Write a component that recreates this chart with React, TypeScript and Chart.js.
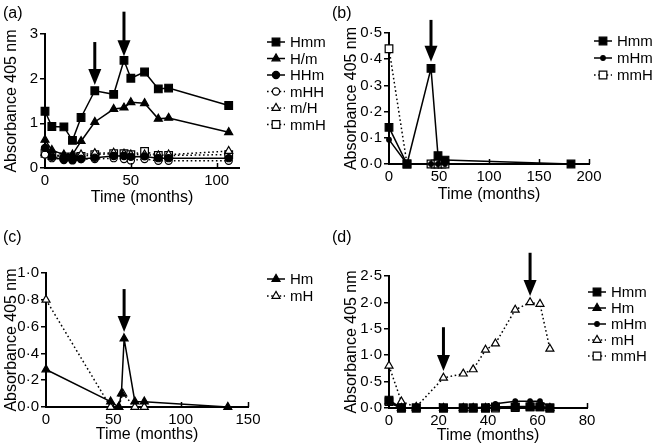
import React, { useEffect, useRef } from 'react';
import { Chart, registerables } from 'chart.js';

Chart.register(...registerables);

const FONT = '"Liberation Sans", Arial, Helvetica, sans-serif';

// ---------- Panel (a) ----------
const monthsA = [0, 4, 11, 16, 21, 29, 40, 46, 50, 58, 66, 72, 107];
const hmmA = [1.27, 0.93, 0.92, 0.62, 1.13, 1.73, 1.65, 2.41, 2.01, 2.15, 1.77, 1.79, 1.40];
const hSlashMA = [0.63, 0.40, 0.30, 0.30, 0.60, 1.03, 1.32, 1.35, 1.47, 1.45, 1.10, 1.12, 0.80];
const hhmA = [0.45, 0.25, 0.18, 0.17, 0.20, 0.23, 0.27, 0.27, 0.25, 0.26, 0.22, 0.22, 0.22];
const mhhA = [0.30, 0.22, 0.20, 0.19, 0.20, 0.20, 0.22, 0.20, 0.17, 0.20, 0.16, 0.16, 0.16];
const mSlashHA = [0.34, 0.30, 0.27, 0.27, 0.30, 0.33, 0.34, 0.32, 0.30, 0.30, 0.28, 0.30, 0.38];
const mmhA = [0.33, 0.28, 0.25, 0.25, 0.26, 0.30, 0.32, 0.32, 0.30, 0.37, 0.28, 0.28, 0.30];
const arrowMonthsA = [29, 46];
const arrowTopsA = [2.82, 3.5];
const arrowTipsA = [1.86, 2.5];

// ---------- Panel (b) ----------
const hmmMonthsB = [0, 18, 42, 49, 56, 182];
const hmmB = [0.14, 0.0, 0.365, 0.032, 0.015, 0.0];
const mhmMonthsB = [0, 18, 42, 49, 56];
const mhmB = [0.093, 0.0, 0.0, 0.0, 0.0];
const mmhMonthsB = [0, 18, 42, 46, 49, 53, 56];
const mmhB = [0.44, 0.0, 0.0, 0.0, 0.0, 0.0, 0.0];
const arrowMonthsB = [42];
const arrowTopsB = [0.55];
const arrowTipsB = [0.39];

// ---------- Panel (c) ----------
const hmMonthsC = [0, 48, 54, 56, 58, 66, 73, 135];
const hmC = [0.28, 0.04, 0.0, 0.1, 0.51, 0.04, 0.04, 0.0];
const mhMonthsC = [0, 48, 54, 57, 66, 73];
const mhC = [0.8, 0.0, 0.0, 0.1, 0.0, 0.0];
const arrowMonthsC = [58];
const arrowTopsC = [0.88];
const arrowTipsC = [0.56];

// ---------- Panel (d) ----------
const monthsD = [0, 5, 11, 22, 30, 34, 39, 43, 51, 57, 61, 65];
const hmmD = [0.15, 0.0, 0.0, 0.0, 0.0, 0.0, 0.0, 0.02, 0.02, 0.02, 0.02, 0.0];
const hmD = [0.12, 0.0, 0.0, 0.0, 0.0, 0.0, 0.0, 0.02, 0.03, 0.03, 0.03, 0.0];
const mhmD = [0.1, 0.0, 0.0, 0.0, 0.0, 0.0, 0.02, 0.08, 0.13, 0.13, 0.13, 0.02];
const mhD = [0.8, 0.12, 0.02, 0.57, 0.65, 0.73, 1.1, 1.22, 1.86, 2.0, 1.97, 1.12];
const mmhD = [0.12, 0.0, 0.0, 0.0, 0.0, 0.0, 0.0, 0.0, 0.01, 0.02, 0.02, 0.0];
const arrowMonthsD = [22, 57];
const arrowTopsD = [1.53, 2.94];
const arrowTipsD = [0.7, 2.12];

type Marker = 'square' | 'triangle' | 'circle' | 'dot';
type Style = { marker: Marker; filled: boolean; dotted: boolean };

const STYLES: Record<string, Style> = {
  Hmm: { marker: 'square', filled: true, dotted: false },
  'H/m': { marker: 'triangle', filled: true, dotted: false },
  Hm: { marker: 'triangle', filled: true, dotted: false },
  HHm: { marker: 'circle', filled: true, dotted: false },
  mHm: { marker: 'dot', filled: true, dotted: false },
  mHH: { marker: 'circle', filled: false, dotted: true },
  'm/H': { marker: 'triangle', filled: false, dotted: true },
  mH: { marker: 'triangle', filled: false, dotted: true },
  mmH: { marker: 'square', filled: false, dotted: true },
};

const RADIUS: Record<Marker, number> = { square: 5.4, triangle: 4.6, circle: 3.6, dot: 2.3 };
const DASH = [1.6, 2.6];

function drawMarker(ctx: CanvasRenderingContext2D, m: Marker, x: number, y: number, filled: boolean) {
  const r = RADIUS[m];
  ctx.beginPath();
  if (m === 'square') {
    const s = r * Math.SQRT1_2;
    ctx.rect(x - s, y - s, 2 * s, 2 * s);
  } else if (m === 'triangle') {
    ctx.moveTo(x, y - r);
    ctx.lineTo(x + r * 0.866, y + r * 0.5);
    ctx.lineTo(x - r * 0.866, y + r * 0.5);
    ctx.closePath();
  } else {
    ctx.arc(x, y, r, 0, Math.PI * 2);
  }
  ctx.fillStyle = filled ? '#000' : '#fff';
  ctx.fill();
  ctx.setLineDash([]);
  ctx.lineWidth = 1.2;
  ctx.strokeStyle = '#000';
  ctx.stroke();
}

type Series = { name: string; x: number[]; y: number[] };

type PanelProps = {
  left: number;
  top: number;
  width: number;
  height: number;
  label: string;
  labelX: number;
  series: Series[];
  xMax: number;
  xStep: number;
  yMax: number;
  yStep: number;
  yDecimals: number;
  area: { left: number; right: number; top: number; bottom: number };
  yTitleCenter: number;
  xTitleCenter: number;
  legendX: number;
  legendY: number;
  legendGap: number;
  arrowX: number[];
  arrowTop: number[];
  arrowTip: number[];
};

function Panel(p: PanelProps) {
  const ref = useRef<HTMLCanvasElement>(null);
  useEffect(() => {
    const canvas = ref.current;
    if (!canvas) return;
    const datasets = p.series.map((s) => {
      const st = STYLES[s.name];
      return {
        label: s.name,
        data: s.x.map((xv, i) => ({ x: xv, y: s.y[i] })),
        borderColor: '#000',
        borderWidth: 1.5,
        borderDash: st.dotted ? DASH : [],
        pointStyle: st.marker === 'square' ? 'rect' : st.marker === 'triangle' ? 'triangle' : 'circle',
        pointRadius: RADIUS[st.marker],
        pointBackgroundColor: st.filled ? '#000' : '#fff',
        pointBorderColor: '#000',
        pointBorderWidth: 1.2,
        pointHoverRadius: RADIUS[st.marker],
        tension: 0,
        fill: false,
        clip: false as any,
      };
    });

    const decor = {
      id: 'decor',
      afterDraw(chart: any) {
        const ctx: CanvasRenderingContext2D = chart.ctx;
        const xs = chart.scales.x;
        const ys = chart.scales.y;
        const a = chart.chartArea;
        ctx.save();
        // inward x ticks
        ctx.strokeStyle = '#000';
        ctx.lineWidth = 1.5;
        xs.ticks.forEach((t: any) => {
          if (t.value === 0) return;
          const px = Math.round(xs.getPixelForValue(t.value)) + 0.5;
          ctx.beginPath();
          ctx.moveTo(px, a.bottom);
          ctx.lineTo(px, a.bottom - 5);
          ctx.stroke();
        });
        // arrows
        p.arrowX.forEach((xv, i) => {
          const px = xs.getPixelForValue(xv);
          const pTop = ys.getPixelForValue(p.arrowTop[i]);
          const pTip = ys.getPixelForValue(p.arrowTip[i]);
          const headLen = 16;
          const headHalf = 6.5;
          ctx.beginPath();
          ctx.lineWidth = 3;
          ctx.moveTo(px, pTop);
          ctx.lineTo(px, pTip - headLen + 2);
          ctx.stroke();
          ctx.beginPath();
          ctx.moveTo(px - headHalf, pTip - headLen);
          ctx.lineTo(px + headHalf, pTip - headLen);
          ctx.lineTo(px, pTip);
          ctx.closePath();
          ctx.fillStyle = '#000';
          ctx.fill();
        });
        // legend
        ctx.font = '15px ' + FONT;
        ctx.textBaseline = 'middle';
        ctx.textAlign = 'left';
        p.series.forEach((s, i) => {
          const st = STYLES[s.name];
          const y = p.legendY + i * p.legendGap;
          ctx.beginPath();
          ctx.setLineDash(st.dotted ? DASH : []);
          ctx.lineWidth = 1.5;
          ctx.strokeStyle = '#000';
          ctx.moveTo(p.legendX, y);
          ctx.lineTo(p.legendX + 18, y);
          ctx.stroke();
          ctx.setLineDash([]);
          drawMarker(ctx, st.marker, p.legendX + 9, y, st.filled);
          ctx.fillStyle = '#000';
          ctx.fillText(s.name, p.legendX + 23, y + 1);
        });
        // panel label
        ctx.font = '16px ' + FONT;
        ctx.fillText(p.label, p.labelX, 14);
        ctx.restore();
      },
    };

    const fmt = (v: any) => {
      const n = Number(v);
      return p.yDecimals > 0 ? n.toFixed(p.yDecimals).replace('.', '\u00B7') : String(Math.round(n));
    };
    const onStep = (step: number) => (scale: any) => {
      scale.ticks = scale.ticks.filter((t: any) => Math.abs(t.value / step - Math.round(t.value / step)) < 1e-6);
    };

    const chart = new Chart(canvas, {
      type: 'line',
      data: { datasets: datasets as any },
      options: {
        responsive: false,
        maintainAspectRatio: false,
        animation: false,
        events: [],
        layout: {
          padding: { left: 0, right: p.width - p.area.right, top: p.area.top, bottom: 0 },
        },
        plugins: { legend: { display: false }, tooltip: { enabled: false }, title: { display: false } },
        scales: {
          x: {
            type: 'linear',
            min: 0,
            max: p.xMax,
            afterFit: (s: any) => {
              s.height = p.height - p.area.bottom;
            },
            afterBuildTicks: onStep(p.xStep),
            ticks: {
              stepSize: p.xStep,
              includeBounds: false,
              color: '#000',
              font: { family: FONT, size: 15 },
              padding: 4,
              maxRotation: 0,
              autoSkip: false,
            },
            grid: { display: true, drawOnChartArea: false, drawTicks: false },
            border: { display: true, color: '#000', width: 2 },
            title: {
              display: true,
              text: 'Time (months)',
              color: '#000',
              font: { family: FONT, size: 16 },
              padding: { top: 0, bottom: p.height - p.xTitleCenter - 9.6 },
            },
          },
          y: {
            type: 'linear',
            min: 0,
            max: p.yMax,
            afterFit: (s: any) => {
              s.width = p.area.left;
            },
            afterBuildTicks: onStep(p.yStep),
            ticks: {
              stepSize: p.yStep,
              includeBounds: false,
              color: '#000',
              font: { family: FONT, size: 15 },
              padding: 2,
              callback: fmt,
              autoSkip: false,
            },
            grid: { display: true, drawOnChartArea: false, drawTicks: true, tickLength: 5, color: '#000', lineWidth: 1.5 },
            border: { display: true, color: '#000', width: 2 },
            title: {
              display: true,
              text: 'Absorbance 405 nm',
              color: '#000',
              font: { family: FONT, size: 16 },
              padding: { top: p.yTitleCenter - 9.6, bottom: 0 },
            },
          },
        },
      } as any,
      plugins: [decor],
    });
    return () => chart.destroy();
  }, []);
  return (
    <canvas
      ref={ref}
      width={p.width}
      height={p.height}
      style={{ position: 'absolute', left: p.left, top: p.top, width: p.width, height: p.height }}
    />
  );
}

export default function App() {
  return (
    <div style={{ position: 'absolute', left: 0, top: 0, width: 654, height: 448, background: '#fff' }}>
      <Panel
        left={0}
        top={0}
        width={327}
        height={224}
        label="(a)"
        labelX={3}
        series={[
          { name: 'Hmm', x: monthsA, y: hmmA },
          { name: 'H/m', x: monthsA, y: hSlashMA },
          { name: 'HHm', x: monthsA, y: hhmA },
          { name: 'mHH', x: monthsA, y: mhhA },
          { name: 'm/H', x: monthsA, y: mSlashHA },
          { name: 'mmH', x: monthsA, y: mmhA },
        ]}
        xMax={113}
        xStep={50}
        yMax={3}
        yStep={1}
        yDecimals={0}
        area={{ left: 45, right: 239, top: 34, bottom: 168 }}
        yTitleCenter={12}
        xTitleCenter={198}
        legendX={267}
        legendY={42}
        legendGap={16.5}
        arrowX={arrowMonthsA}
        arrowTop={arrowTopsA}
        arrowTip={arrowTipsA}
      />
      <Panel
        left={327}
        top={0}
        width={327}
        height={224}
        label="(b)"
        labelX={5}
        series={[
          { name: 'Hmm', x: hmmMonthsB, y: hmmB },
          { name: 'mHm', x: mhmMonthsB, y: mhmB },
          { name: 'mmH', x: mmhMonthsB, y: mmhB },
        ]}
        xMax={200}
        xStep={50}
        yMax={0.5}
        yStep={0.1}
        yDecimals={1}
        area={{ left: 62, right: 262, top: 33, bottom: 164 }}
        yTitleCenter={25}
        xTitleCenter={195}
        legendX={267}
        legendY={41}
        legendGap={17}
        arrowX={arrowMonthsB}
        arrowTop={arrowTopsB}
        arrowTip={arrowTipsB}
      />
      <Panel
        left={0}
        top={224}
        width={327}
        height={224}
        label="(c)"
        labelX={3}
        series={[
          { name: 'Hm', x: hmMonthsC, y: hmC },
          { name: 'mH', x: mhMonthsC, y: mhC },
        ]}
        xMax={150}
        xStep={50}
        yMax={1.0}
        yStep={0.2}
        yDecimals={1}
        area={{ left: 46, right: 248, top: 49, bottom: 183 }}
        yTitleCenter={12}
        xTitleCenter={211}
        legendX={267}
        legendY={55}
        legendGap={17}
        arrowX={arrowMonthsC}
        arrowTop={arrowTopsC}
        arrowTip={arrowTipsC}
      />
      <Panel
        left={327}
        top={224}
        width={327}
        height={224}
        label="(d)"
        labelX={5}
        series={[
          { name: 'Hmm', x: monthsD, y: hmmD },
          { name: 'Hm', x: monthsD, y: hmD },
          { name: 'mHm', x: monthsD, y: mhmD },
          { name: 'mH', x: monthsD, y: mhD },
          { name: 'mmH', x: monthsD, y: mmhD },
        ]}
        xMax={80}
        xStep={20}
        yMax={2.5}
        yStep={0.5}
        yDecimals={1}
        area={{ left: 62, right: 260, top: 52, bottom: 184 }}
        yTitleCenter={25}
        xTitleCenter={212}
        legendX={261}
        legendY={68}
        legendGap={16}
        arrowX={arrowMonthsD}
        arrowTop={arrowTopsD}
        arrowTip={arrowTipsD}
      />
    </div>
  );
}
